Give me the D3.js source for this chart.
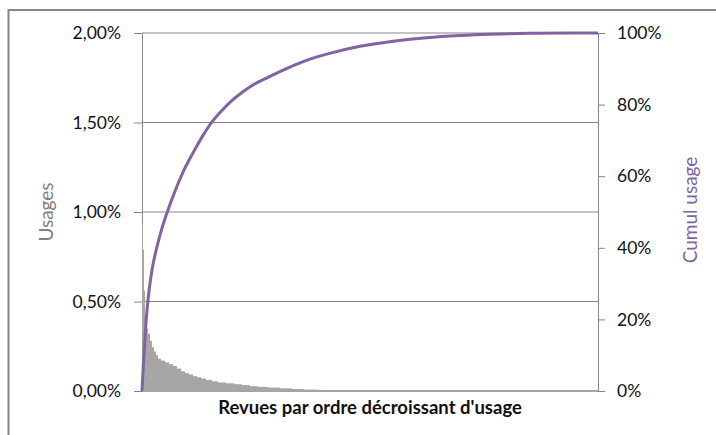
<!DOCTYPE html>
<html>
<head>
<meta charset="utf-8">
<script src="https://cdn.jsdelivr.net/npm/d3@7"></script>
<style>
  body { margin: 0; background: #fff; }
  text { font-family: Lato, "Open Sans", sans-serif; }
</style>
</head>
<body>
<div class="chart"></div>
<script>
// usage of each revue (% of all usages), grouped in rank bins (bin = start rank)
var total_revues = 4560;
var bin_start = [0, 10, 20, 30, 40, 60, 80, 100, 120, 140, 160, 190, 230, 270, 310, 350, 390, 430, 470, 510,
  550, 590, 640, 700, 760, 840, 920, 1000, 1080, 1160, 1260, 1380, 1500, 1620, 1760, 1900, 2080, 2280];
var bin_usage = [0.94, 0.79, 0.56, 0.37, 0.35, 0.32, 0.28, 0.245, 0.22, 0.2, 0.18, 0.17, 0.16, 0.15, 0.14, 0.125,
  0.11, 0.1, 0.092, 0.083, 0.077, 0.07, 0.062, 0.054, 0.048, 0.043, 0.038, 0.033, 0.027, 0.023, 0.019,
  0.015, 0.011, 0.008, 0.006, 0.004, 0.003, 0.002];

// cumulated usage (%) read along the rank axis
var cumul_rank = [0, 15, 30, 53, 75, 100, 150, 200, 250, 330, 430, 540, 610, 677, 780, 893, 1000, 1093, 1260,
  1347, 1513, 1680, 1847, 2180, 2513, 2847, 3180, 3480, 3880, 4560];
var cumul_pct = [0, 8, 15, 23.5, 29, 33.8, 40.3, 45.5, 49.8, 55.8, 62.3, 68.0, 71.4, 74.3, 77.8, 81.0, 83.4,
  85.2, 87.6, 88.8, 90.9, 92.7, 94.1, 96.3, 97.7, 98.7, 99.3, 99.65, 99.9, 100];

var left_ticks = [0, 0.5, 1, 1.5, 2];
var right_ticks = [0, 20, 40, 60, 80, 100];

var x_title = "Revues par ordre décroissant d'usage";
var left_title = "Usages";
var right_title = "Cumul usage";

var width = 716, height = 435;
var margin_px = { top: 33, bottom: 44, left: 142, right: 118 };
var inner_width = width - margin_px.left - margin_px.right;
var inner_height = height - margin_px.top - margin_px.bottom;

var grey = "#868686";
var purple = "#8064a2";

var svg = d3.select(".chart").append("svg")
  .attr("width", width)
  .attr("height", height);

// outer frame of the chart (cut by the picture on the right and bottom)
svg.append("rect")
  .attr("x", 8.5).attr("y", 10)
  .attr("width", 800).attr("height", 600)
  .attr("fill", "none")
  .attr("stroke", grey)
  .attr("stroke-width", 2);

var g = svg.append("g")
  .attr("transform", "translate(" + margin_px.left + "," + margin_px.top + ")");

var x_scale = d3.scaleLinear().domain([0, total_revues]).range([0, inner_width]);
var y_left = d3.scaleLinear().domain([0, 2]).range([inner_height, 0]);
var y_right = d3.scaleLinear().domain([0, 100]).range([inner_height, 0]);

// gridlines
g.selectAll(".grid")
  .data(left_ticks)
  .enter()
  .append("line")
    .attr("class", "grid")
    .attr("x1", 0).attr("x2", inner_width)
    .attr("y1", d => y_left(d)).attr("y2", d => y_left(d))
    .attr("stroke", grey)
    .attr("stroke-width", 1);

// axes
var fr = d3.formatLocale({ decimal: ",", thousands: " ", grouping: [3], currency: ["", " €"] });
var left_axis = d3.axisLeft(y_left)
  .tickValues(left_ticks)
  .tickSize(8)
  .tickPadding(13)
  .tickFormat(d => fr.format(".2f")(d) + "%");
var right_axis = d3.axisRight(y_right)
  .tickValues(right_ticks)
  .tickSize(7)
  .tickPadding(12)
  .tickFormat(d => d + "%");

var gl = g.append("g").call(left_axis);
var gr = g.append("g").attr("transform", "translate(" + inner_width + ",0)").call(right_axis);
[gl, gr].forEach(a => {
  a.selectAll("path, line").attr("stroke", grey);
  a.selectAll("text").attr("fill", "#111").style("font-size", "17.5px");
});

// bottom axis line
g.append("line")
  .attr("x1", 0).attr("x2", inner_width)
  .attr("y1", inner_height).attr("y2", inner_height)
  .attr("stroke", grey);

// bars (edges snapped to whole pixels so that they join without seams)
var bins = bin_start.map((s, i) => ({
  start: s,
  end: i < bin_start.length - 1 ? bin_start[i + 1] : total_revues,
  usage: bin_usage[i]
}));
g.selectAll(".bar")
  .data(bins)
  .enter()
  .append("rect")
    .attr("class", "bar")
    .attr("fill", "#a6a6a6")
    .attr("x", d => Math.round(x_scale(d.start)))
    .attr("y", d => y_left(d.usage))
    .attr("width", d => Math.max(1, Math.round(x_scale(d.end)) - Math.round(x_scale(d.start))))
    .attr("height", d => inner_height - y_left(d.usage));

// cumulated line
var line = d3.line()
  .x(d => x_scale(d[0]))
  .y(d => y_right(d[1]))
  .curve(d3.curveMonotoneX);
g.append("path")
  .datum(cumul_rank.map((r, i) => [r, cumul_pct[i]]))
  .attr("d", line)
  .attr("fill", "none")
  .attr("stroke", purple)
  .attr("stroke-width", 3);

// titles
svg.append("text")
  .attr("x", 370).attr("y", 414)
  .attr("text-anchor", "middle")
  .style("font-size", "18.5px")
  .style("font-weight", "bold")
  .attr("fill", "#111")
  .text(x_title);

svg.append("text")
  .attr("transform", "translate(53,212) rotate(-90)")
  .attr("text-anchor", "middle")
  .style("font-size", "19px")
  .attr("fill", "#808080")
  .text(left_title);

svg.append("text")
  .attr("transform", "translate(697,210) rotate(-90)")
  .attr("text-anchor", "middle")
  .style("font-size", "19px")
  .attr("fill", purple)
  .text(right_title);
</script>
</body>
</html>
